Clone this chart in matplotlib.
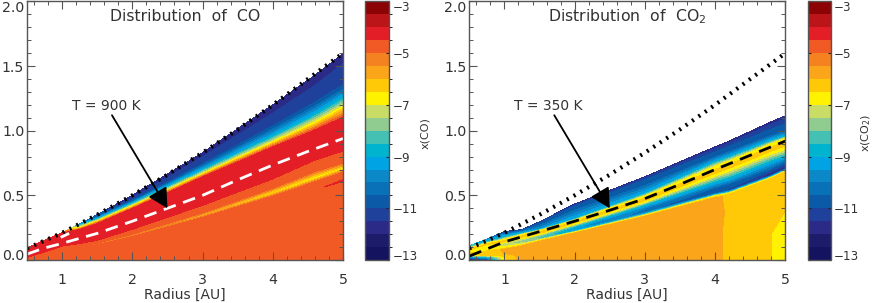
import numpy as np
import matplotlib
matplotlib.use('Agg')
import matplotlib.pyplot as plt
from matplotlib.colors import ListedColormap, BoundaryNorm
from matplotlib.ticker import MultipleLocator

# colour bands, -13 up to -3 in steps of 0.5
band_colors = ['#13135f', '#1c1c6b', '#2b2a86', '#1f419b', '#0b5aa8', '#0871b8', '#0a88c8',
               '#00a4e4', '#00b4d0', '#45c1b4', '#90cc90', '#c9dd66', '#fff200', '#ffc907',
               '#fba51b', '#f58220', '#f15a24', '#e31e26', '#bb1419', '#8b0304']
levels = np.arange(-13, -2.9, 0.5)

# CO panel: radius nodes, then heights and log abundance per layer
co_radius = [0.5, 1, 1.25, 1.5, 2, 3, 4, 4.6, 5]
co_height = [
    [0, 0, 0, 0, 0, 0, 0, 0, 0],
    [.004, .04, .05, .06, .08, .15, .30, .525, .60],
    [.006, .05, .06, .07, .09, .17, .32, .54, .615],
    [.008, .06, .07, .08, .10, .19, .34, .555, .63],
    [.010, .085, .095, .11, .175, .325, .49, .60, .675],
    [.012, .095, .105, .125, .19, .345, .52, .635, .71],
    [.014, .10, .115, .135, .205, .37, .56, .69, .755],
    [.016, .105, .125, .15, .235, .42, .625, .77, .84],
    [.020, .11, .13, .155, .24, .425, .63, .775, .845],
    [.085, .205, .235, .28, .395, .64, .87, 1.0, 1.095],
    [.087, .207, .25, .30, .417, .665, .91, 1.06, 1.18],
    [.088, .208, .265, .32, .44, .70, .96, 1.13, 1.26],
    [.089, .209, .272, .335, .46, .74, 1.03, 1.21, 1.34],
    [.090, .21, .276, .345, .48, .79, 1.12, 1.33, 1.50],
    [.092, .212, .28, .35, .50, .83, 1.20, 1.43, 1.595],
]
co_value = [
    [-4.75] * 9,
    [-4.75] * 9,
    [-4.75, -4.75, -4.75, -4.75, -4.75, -4.75, -4.75, -4.6, -4.3],
    [-4.75] * 9,
    [-4.75] * 9,
    [-4.75, -4.85, -5.0, -5.2, -5.4, -6.0, -6.8, -6.9, -6.9],
    [-4.75] * 9,
    [-4.75] * 9,
    [-4.25] * 9,
    [-4.25] * 9,
    [-4.25, -4.25, -6.75, -6.75, -6.75, -6.75, -6.75, -6.75, -6.75],
    [-4.25, -4.25, -8, -9, -9, -9, -9, -9, -9],
    [-4.25, -4.3, -9, -10.5, -10.95, -10.95, -10.95, -10.95, -10.95],
    [-4.25, -4.5, -9.5, -11, -11.45, -11.45, -11.45, -11.45, -11.45],
    [-4.25, -4.6, -10, -11.5, -11.7, -11.7, -11.7, -11.7, -11.7],
]

# CO2 panel
co2_radius = [0.5, 0.75, 1, 1.25, 1.5, 2, 3, 4, 4.2, 4.8, 5]
co2_height = [
    [0, 0, 0, 0, 0, 0, 0, 0, 0, 0, 0],
    [.02, .02, .03, .04, .05, .06, .10, .20, .20, .20, .20],
    [.04, .04, .05, .07, .09, .12, .20, .35, .38, .40, .38],
    [.05, .06, .08, .105, .14, .206, .335, .48, .50, .62, .67],
    [.055, .07, .09, .115, .15, .215, .345, .495, .515, .635, .685],
    [.06, .085, .105, .125, .16, .225, .37, .515, .54, .66, .71],
    [.065, .095, .12, .14, .175, .245, .40, .56, .59, .71, .76],
    [.07, .105, .13, .155, .19, .26, .43, .60, .63, .76, .80],
    [.075, .115, .14, .17, .20, .28, .45, .655, .695, .825, .86],
    [.08, .12, .145, .18, .21, .29, .465, .68, .72, .855, .895],
    [.085, .13, .155, .195, .225, .305, .49, .72, .76, .895, .935],
    [.09, .135, .175, .205, .24, .32, .515, .76, .80, .925, .96],
    [.10, .145, .20, .22, .27, .39, .58, .80, .84, .965, 1.0],
    [.105, .155, .21, .23, .29, .42, .625, .84, .885, 1.02, 1.06],
    [.11, .16, .22, .235, .296, .433, .644, .876, .92, 1.07, 1.115],
]
co2_value = [
    [-13, -11.5, -6.7, -5.75, -5.75, -5.75, -5.75, -5.95, -6.05, -6.5, -6.8],
    [-10, -9, -6.4, -5.75, -5.75, -5.75, -5.75, -5.95, -6.05, -6.5, -6.75],
    [-6.5, -6.2, -6.0, -5.75, -5.75, -5.75, -5.75, -5.9, -6.05, -6.3, -6.5],
    [-6.4, -6.3, -5.9, -5.75, -5.75, -5.75, -5.75, -5.9, -6.1, -6.15, -6.2],
    [-6.5, -6.5, -6.5, -6.5, -6.5, -7, -7, -6.8, -6.8, -6.6, -6.5],
    [-6.8, -6.8, -7, -7.2, -7.8, -9, -10.5, -10.75, -11.2, -12, -12],
    [-7, -7, -7.5, -7.8, -8.2, -9.5, -10, -10.5, -10.5, -10.5, -10.5],
    [-7, -7, -7.2, -7.5, -7.8, -8.5, -8.5, -9, -9, -9, -9],
    [-6.9, -6.8, -6.8, -6.8, -6.8, -6.8, -6.8, -6.8, -6.8, -6.8, -6.8],
    [-6.3] * 11,
    [-6.7] * 11,
    [-7.5, -8, -8.5, -8.5, -9.5, -9, -9, -9, -9, -9, -9],
    [-8, -9, -10, -10, -10.6, -10.6, -10.6, -10.6, -10.6, -10.6, -10.6],
    [-8, -9.5, -10.8, -10.9, -11.05, -11.05, -11.05, -11.05, -11.05, -11.05, -11.05],
    [-8.5, -10, -11.8, -11.8, -11.8, -11.8, -11.8, -11.8, -11.8, -11.8, -11.8],
]

# disk surface (dotted) and temperature contours (dashed)
surface_r = [0.5, 1, 1.5, 2, 2.5, 3, 3.5, 4, 4.5, 5]
surface_z = [0.09, 0.21, 0.35, 0.50, 0.66, 0.83, 1.01, 1.20, 1.40, 1.60]
t900_r = [0.5, 0.73, 0.97, 1.2, 1.5, 2, 2.5, 3, 3.5, 4, 4.5, 5]
t900_z = [0.045, 0.09, 0.124, 0.16, 0.206, 0.30, 0.40, 0.50, 0.62, 0.735, 0.84, 0.94]
t900_branch_r = [0.98, 1.1]
t900_branch_z = [0.175, 0.206]
t350_r = [0.5, 1, 1.5, 2, 2.5, 3, 3.5, 4, 5]
t350_z = [0.03, 0.14, 0.22, 0.30, 0.385, 0.475, 0.585, 0.70, 0.92]

cbar_ticks = [-3, -5, -7, -9, -11, -13]
cbar_labels = ['\u22123', '\u22125', '\u22127', '\u22129', '\u221211', '\u221213']
W, H = 872, 303
GRAY = '#555555'
TEXT = '#333333'

plt.rcParams['font.family'] = 'DejaVu Sans'
plt.rcParams['mathtext.default'] = 'regular'
cmap = ListedColormap(band_colors)
norm = BoundaryNorm(levels, cmap.N)


def box(x0, x1, y0=1.5, y1=260):
    return [x0 / W, 1 - y1 / H, (x1 - x0) / W, (y1 - y0) / H]


def draw_panel(fig, x0, x1, cx0, cx1, radius, height, value, title, cblabel, tlabel,
               t_r, t_z, t_color):
    ax = fig.add_axes(box(x0, x1))
    cax = fig.add_axes(box(cx0, cx1))
    rr = np.tile(radius, (len(height), 1))
    cf = ax.contourf(rr, np.array(height), np.array(value), levels=levels, cmap=cmap, norm=norm)
    ax.plot(surface_r, surface_z, ls=(0, (0.5, 1.37)), lw=3.0, color='k')
    ax.plot(t_r, t_z, ls=(0, (4.6, 2.8)), lw=2.0, color=t_color)
    ax.annotate('', xy=(2.5, 0.40), xytext=(1.71, 1.12),
                arrowprops=dict(arrowstyle='-|>,head_length=0.6,head_width=0.32', lw=1.3,
                                color='k', shrinkA=0, shrinkB=0, mutation_scale=20))
    ax.text(1.625, 1.19, tlabel, ha='center', va='center', fontsize=10, color=TEXT)
    ax.text(2.75, 1.885, title, ha='center', va='center', fontsize=11.3, color=TEXT)
    ax.set_xlim(0.5, 5)
    ax.set_ylim(0, 2)
    ax.set_xticks([1, 2, 3, 4, 5])
    ax.set_yticks([0, 0.5, 1, 1.5, 2], ['0.0', '0.5', '1.0', '1.5', '2.0'])
    ax.xaxis.set_minor_locator(MultipleLocator(0.2))
    ax.yaxis.set_minor_locator(MultipleLocator(0.1))
    ax.tick_params(which='major', direction='in', top=True, right=True, length=6, width=0.8,
                   color=GRAY, labelsize=10.2, labelcolor=TEXT)
    ax.tick_params(axis='y', which='major', pad=2)
    ax.tick_params(axis='x', which='major', pad=9)
    ax.tick_params(which='minor', direction='in', top=True, right=True, length=3, width=0.7,
                   color=GRAY)
    ax.set_xlabel('Radius [AU]', fontsize=10, color=TEXT, labelpad=1)
    for s in ax.spines.values():
        s.set_color(GRAY)
        s.set_linewidth(1.0)
    ylabels = ax.get_yticklabels()
    ylabels[0].set_verticalalignment('baseline')
    ylabels[-1].set_verticalalignment('top')

    cb = fig.colorbar(cf, cax=cax)
    cb.set_ticks(cbar_ticks, labels=cbar_labels)
    cb.ax.minorticks_off()
    cb.ax.tick_params(direction='in', left=True, right=True, length=2, width=0.8, color='#222222',
                      labelsize=8.6, labelcolor=TEXT, pad=2.5)
    cb.outline.set_edgecolor(GRAY)
    cb.outline.set_linewidth(1.0)
    cb_labels = cb.ax.get_yticklabels()
    cb_labels[0].set_verticalalignment('top')
    cb_labels[-1].set_verticalalignment('baseline')
    cax.text(1 + 36 / (cx1 - cx0), 0.49, cblabel, rotation=90, ha='center', va='center',
             fontsize=8, color=TEXT, transform=cax.transAxes)
    return ax


fig = plt.figure(figsize=(W / 100, H / 100), dpi=100)
ax1 = draw_panel(fig, 27, 343, 365, 389, co_radius, co_height, co_value,
                 'Distribution  of  CO', 'x(CO)', 'T = 900 K', t900_r, t900_z, 'white')
ax1.plot(t900_branch_r, t900_branch_z, lw=2.0, color='white', solid_capstyle='butt')
draw_panel(fig, 469.3, 785.3, 808, 830.6, co2_radius, co2_height, co2_value,
           'Distribution  of  CO$_2$', 'x(CO$_2$)', 'T = 350 K', t350_r, t350_z, 'black')
fig.savefig('out.png', dpi=100)
